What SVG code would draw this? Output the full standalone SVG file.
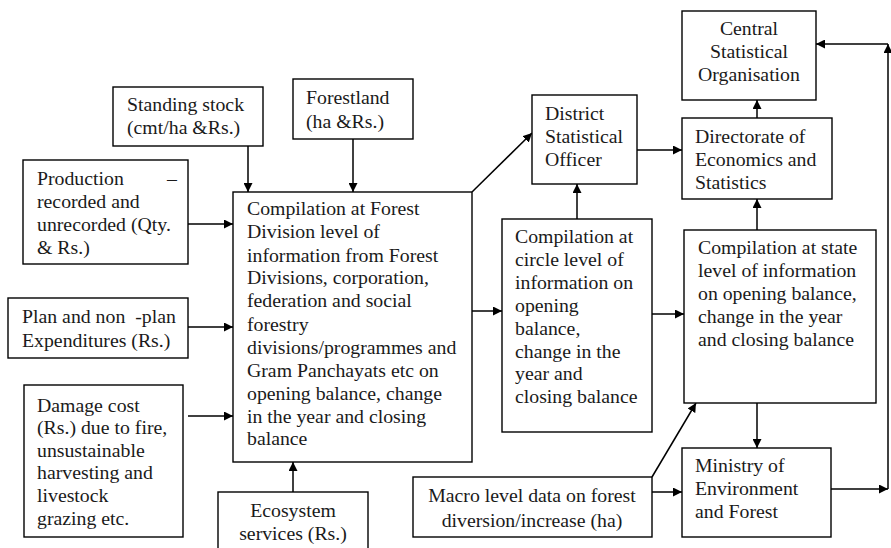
<svg xmlns="http://www.w3.org/2000/svg" width="891" height="548" viewBox="0 0 891 548">
<defs>
<marker id="ah" viewBox="0 0 10 10" refX="10" refY="5" markerWidth="9" markerHeight="9" markerUnits="userSpaceOnUse" orient="auto">
<path d="M0,0 L10,5 L0,10 z" fill="#000"/>
</marker>
<style>
.box{fill:#fff;stroke:#000;stroke-width:1.4}
.t{font-family:"Liberation Serif","Times New Roman",serif;font-size:19.8px;fill:#1a1a1a}
.c{text-anchor:middle}
.ln{stroke:#000;stroke-width:1.5;fill:none;marker-end:url(#ah)}
</style>
</defs>
<rect width="891" height="548" fill="#fff"/>

<g id="connectors">
<line class="ln" x1="248" y1="146" x2="248" y2="192"/>
<line class="ln" x1="353" y1="139" x2="353" y2="192"/>
<line class="ln" x1="188" y1="224" x2="233" y2="224"/>
<line class="ln" x1="188" y1="327" x2="233" y2="327"/>
<line class="ln" x1="188" y1="416" x2="233" y2="416"/>
<line class="ln" x1="293" y1="492" x2="293" y2="462"/>
<line class="ln" x1="472" y1="192" x2="532" y2="133"/>
<line class="ln" x1="472" y1="311" x2="502" y2="311"/>
<line class="ln" x1="577" y1="219" x2="577" y2="184"/>
<line class="ln" x1="637" y1="150" x2="682" y2="150"/>
<line class="ln" x1="652" y1="314" x2="684" y2="314"/>
<line class="ln" x1="757" y1="230" x2="757" y2="199"/>
<line class="ln" x1="757" y1="118" x2="757" y2="100"/>
<line class="ln" x1="757" y1="403" x2="757" y2="448"/>
<line class="ln" x1="652" y1="477" x2="696" y2="403"/>
<line class="ln" x1="652" y1="492" x2="682" y2="492"/>
<line class="ln" x1="831" y1="489" x2="888" y2="489"/>
<line class="ln" x1="888" y1="489" x2="888" y2="44"/>
<line class="ln" x1="888" y1="44" x2="816" y2="44"/>
</g>

<g id="standing-stock">
<rect class="box" x="113" y="87" width="150" height="59"/>
<text class="t" x="127" y="111">Standing stock</text>
<text class="t" x="127" y="134">(cmt/ha &amp;Rs.)</text>
</g>

<g id="forestland">
<rect class="box" x="293" y="79" width="120" height="60"/>
<text class="t" x="306" y="104">Forestland</text>
<text class="t" x="306" y="128">(ha &amp;Rs.)</text>
</g>

<g id="production">
<rect class="box" x="23" y="160" width="165" height="104"/>
<text class="t" x="37" y="185">Production</text>
<text class="t" x="167" y="185">–</text>
<text class="t" x="37" y="208">recorded and</text>
<text class="t" x="37" y="231">unrecorded (Qty.</text>
<text class="t" x="37" y="254">&amp; Rs.)</text>
</g>

<g id="plan">
<rect class="box" x="8" y="298" width="180" height="60"/>
<text class="t" x="22" y="323">Plan and non&#160; -plan</text>
<text class="t" x="22" y="347">Expenditures (Rs.)</text>
</g>

<g id="damage">
<rect class="box" x="24" y="385" width="159" height="152"/>
<text class="t" x="37" y="412">Damage cost</text>
<text class="t" x="37" y="434">(Rs.) due to fire,</text>
<text class="t" x="37" y="457">unsustainable</text>
<text class="t" x="37" y="479">harvesting and</text>
<text class="t" x="37" y="502">livestock</text>
<text class="t" x="37" y="525">grazing etc.</text>
</g>

<g id="ecosystem">
<rect class="box" x="218" y="492" width="150" height="70"/>
<text class="t c" x="293" y="517">Ecosystem</text>
<text class="t c" x="293" y="540">services (Rs.)</text>
</g>

<g id="forest-division">
<rect class="box" x="233" y="192" width="239" height="270"/>
<text class="t" x="247" y="215">Compilation at Forest</text>
<text class="t" x="247" y="238">Division level of</text>
<text class="t" x="247" y="262">information from Forest</text>
<text class="t" x="247" y="284">Divisions, corporation,</text>
<text class="t" x="247" y="307">federation and social</text>
<text class="t" x="247" y="331">forestry</text>
<text class="t" x="247" y="354">divisions/programmes and</text>
<text class="t" x="247" y="377">Gram Panchayats etc on</text>
<text class="t" x="247" y="400">opening balance, change</text>
<text class="t" x="247" y="423">in the year and closing</text>
<text class="t" x="247" y="445">balance</text>
</g>

<g id="district">
<rect class="box" x="532" y="95" width="105" height="89"/>
<text class="t" x="545" y="120">District</text>
<text class="t" x="545" y="143">Statistical</text>
<text class="t" x="545" y="166">Officer</text>
</g>

<g id="circle">
<rect class="box" x="502" y="219" width="150" height="213"/>
<text class="t" x="515" y="243">Compilation at</text>
<text class="t" x="515" y="266">circle level of</text>
<text class="t" x="515" y="289">information on</text>
<text class="t" x="515" y="312">opening</text>
<text class="t" x="515" y="335">balance,</text>
<text class="t" x="515" y="358">change in the</text>
<text class="t" x="515" y="380">year and</text>
<text class="t" x="515" y="403">closing balance</text>
</g>

<g id="cso">
<rect class="box" x="682" y="11" width="134" height="89"/>
<text class="t c" x="749" y="35">Central</text>
<text class="t c" x="749" y="58">Statistical</text>
<text class="t c" x="749" y="81">Organisation</text>
</g>

<g id="directorate">
<rect class="box" x="682" y="118" width="150" height="81"/>
<text class="t" x="695" y="143">Directorate of</text>
<text class="t" x="695" y="166">Economics and</text>
<text class="t" x="695" y="189">Statistics</text>
</g>

<g id="state">
<rect class="box" x="684" y="230" width="192" height="173"/>
<text class="t" x="698" y="254">Compilation at state</text>
<text class="t" x="698" y="277">level of information</text>
<text class="t" x="698" y="300">on opening balance,</text>
<text class="t" x="698" y="323">change in the year</text>
<text class="t" x="698" y="346">and closing balance</text>
</g>

<g id="macro">
<rect class="box" x="413" y="477" width="239" height="60"/>
<text class="t c" x="532" y="502">Macro level data on forest</text>
<text class="t c" x="532" y="527">diversion/increase (ha)</text>
</g>

<g id="ministry">
<rect class="box" x="682" y="448" width="149" height="89"/>
<text class="t" x="695" y="472">Ministry of</text>
<text class="t" x="695" y="495">Environment</text>
<text class="t" x="695" y="518">and Forest</text>
</g>
</svg>
